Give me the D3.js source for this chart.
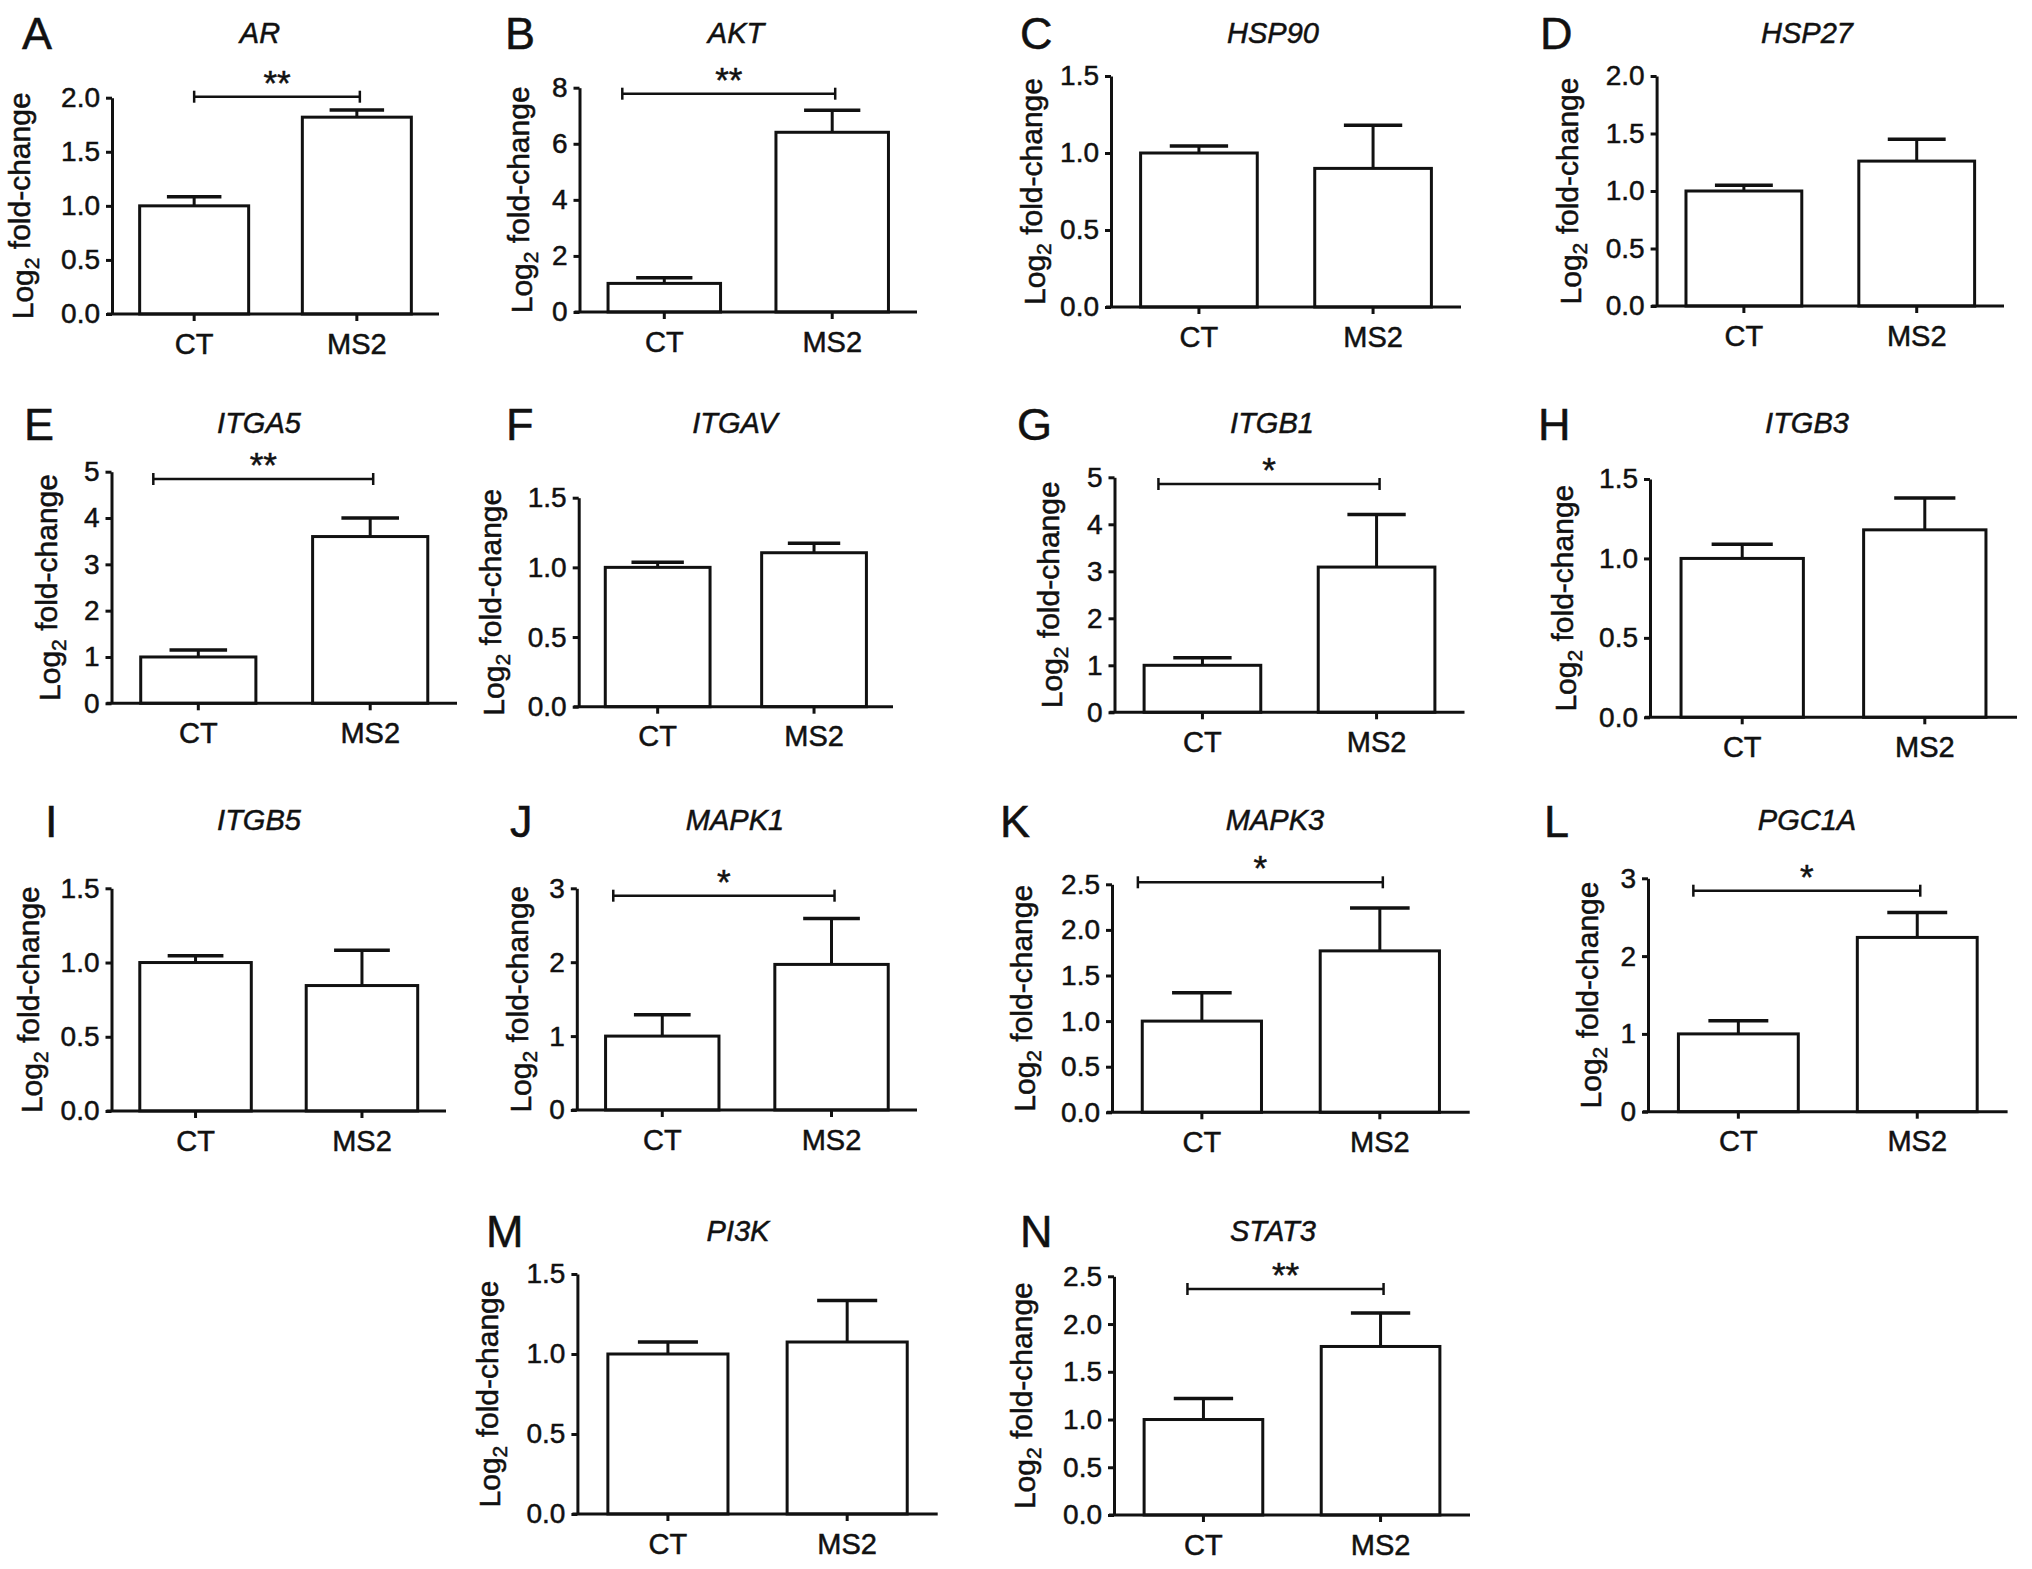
<!DOCTYPE html>
<html>
<head>
<meta charset="utf-8">
<script src="https://cdn.jsdelivr.net/npm/d3@7"></script>
<style>
  body { margin: 0; background: #fff; }
  text { font-family: "Liberation Sans", Arial, Helvetica, sans-serif; fill: #111;
         stroke: #111; stroke-width: 0.5px; }
</style>
</head>
<body>
<div id="chart"></div>
<script>
// values
const genes = ['AR', 'AKT', 'HSP90', 'HSP27', 'ITGA5', 'ITGAV', 'ITGB1', 'ITGB3',
               'ITGB5', 'MAPK1', 'MAPK3', 'PGC1A', 'PI3K', 'STAT3'];
const panelLetters = ['A', 'B', 'C', 'D', 'E', 'F', 'G', 'H', 'I', 'J', 'K', 'L', 'M', 'N'];
const groups = ['CT', 'MS2'];

const ctMean  = [1.0, 1.02, 1.0, 1.0, 1.0, 1.0, 1.0, 1.0, 1.0, 1.0, 1.0, 1.0, 1.0, 1.0];
const ctSem   = [0.085, 0.2, 0.045, 0.05, 0.15, 0.036, 0.16, 0.09, 0.045, 0.29, 0.31, 0.17, 0.075, 0.22];
const ms2Mean = [1.82, 6.41, 0.90, 1.26, 3.6, 1.105, 3.09, 1.18, 0.845, 1.97, 1.77, 2.24, 1.075, 1.765];
const ms2Sem  = [0.067, 0.79, 0.28, 0.19, 0.4, 0.068, 1.12, 0.2, 0.237, 0.62, 0.47, 0.32, 0.26, 0.35];

const yMax  = [2, 8, 1.5, 2, 5, 1.5, 5, 1.5, 1.5, 3, 2.5, 3, 1.5, 2.5];
const yStep = [0.5, 2, 0.5, 0.5, 1, 0.5, 1, 0.5, 0.5, 1, 0.5, 1, 0.5, 0.5];
const sigLabels = ['**', '**', '', '', '**', '', '*', '', '', '*', '*', '*', '', '**'];

// panel placement (pixels): y axis x, x axis end, top tick y, zero y,
// title x, letter x, y-label offset, significance bar y and left shift
const layout = [
  { ax: 112,   x1: 439,  yTop: 97.7,  y0: 314,   tx: 260,  lx: 22,   lab: 87, sy: 96.7,  sdx: 0 },
  { ax: 579.5, x1: 917,  yTop: 87.7,  y0: 312,   tx: 736,  lx: 505,  lab: 56, sy: 93.7,  sdx: -42 },
  { ax: 1111,  x1: 1461, yTop: 76,    y0: 307,   tx: 1273, lx: 1020, lab: 74, sy: 0,     sdx: 0 },
  { ax: 1656.6,x1: 2004, yTop: 76,    y0: 306,   tx: 1807, lx: 1540, lab: 84, sy: 0,     sdx: 0 },
  { ax: 111.5, x1: 457,  yTop: 471.7, y0: 703.3, tx: 259,  lx: 24,   lab: 60, sy: 479,   sdx: -45 },
  { ax: 578.7, x1: 893,  yTop: 497.7, y0: 706.7, tx: 735,  lx: 506,  lab: 83, sy: 0,     sdx: 0 },
  { ax: 1114.5,x1: 1464.5,yTop: 477.3,y0: 712.3, tx: 1272, lx: 1017, lab: 61, sy: 484,   sdx: -44 },
  { ax: 1650,  x1: 2017, yTop: 479,   y0: 717.3, tx: 1807, lx: 1538, lab: 82, sy: 0,     sdx: 0 },
  { ax: 111.5, x1: 446,  yTop: 888.3, y0: 1111,  tx: 259,  lx: 45,   lab: 78, sy: 0,     sdx: 0 },
  { ax: 576.8, x1: 917,  yTop: 888.3, y0: 1110,  tx: 735,  lx: 510,  lab: 54, sy: 895.7, sdx: -49 },
  { ax: 1112,  x1: 1469.7,yTop: 884.3,y0: 1112.3,tx: 1275, lx: 1000, lab: 85, sy: 882.3, sdx: -64 },
  { ax: 1648,  x1: 2007.6,yTop: 878.3,y0: 1111.7,tx: 1807, lx: 1544, lab: 55, sy: 890.7, sdx: -45 },
  { ax: 577.4, x1: 937.7,yTop: 1274,  y0: 1514,  tx: 738,  lx: 486,  lab: 85, sy: 0,     sdx: 0 },
  { ax: 1114,  x1: 1470, yTop: 1276.3,y0: 1515,  tx: 1273, lx: 1020, lab: 87, sy: 1289,  sdx: -16 }
];
const rowOf = [0, 0, 0, 0, 1, 1, 1, 1, 2, 2, 2, 2, 3, 3];
const titleY = [43, 433, 830, 1241];
const letterY = [49, 440, 837, 1247];

const ink = '#111';
const svg = d3.select('#chart').append('svg')
  .attr('width', 2032).attr('height', 1569)
  .style('background', '#fff');

genes.forEach((gene, i) => {
  const L = layout[i];
  const g = svg.append('g');

  const x = d3.scaleBand().domain(groups).range([L.ax, L.x1])
    .paddingInner(0.33).paddingOuter(0.17);
  const y = d3.scaleLinear().domain([0, yMax[i]]).range([L.y0, L.yTop]);
  const bw = x.bandwidth();

  const vals = [
    { grp: 'CT', mean: ctMean[i], sem: ctSem[i] },
    { grp: 'MS2', mean: ms2Mean[i], sem: ms2Sem[i] }
  ];

  // upper SEM bars
  const eb = g.selectAll('g.err').data(vals).join('g').attr('class', 'err');
  eb.append('line')
    .attr('x1', d => x(d.grp) + bw / 2).attr('x2', d => x(d.grp) + bw / 2)
    .attr('y1', d => y(d.mean)).attr('y2', d => y(d.mean + d.sem))
    .attr('stroke', ink).attr('stroke-width', 3);
  eb.append('line')
    .attr('x1', d => x(d.grp) + bw / 4).attr('x2', d => x(d.grp) + bw * 3 / 4)
    .attr('y1', d => y(d.mean + d.sem)).attr('y2', d => y(d.mean + d.sem))
    .attr('stroke', ink).attr('stroke-width', 3.5);

  // bars
  g.selectAll('rect.bar').data(vals).join('rect').attr('class', 'bar')
    .attr('x', d => x(d.grp))
    .attr('y', d => y(d.mean))
    .attr('width', bw)
    .attr('height', d => y(0) - y(d.mean))
    .attr('fill', '#fff').attr('stroke', ink).attr('stroke-width', 3);

  // axes
  const fmt = yStep[i] < 1 ? d3.format('.1f') : d3.format('d');
  const yAxis = d3.axisLeft(y)
    .tickValues(d3.range(0, yMax[i] + 1e-9, yStep[i]))
    .tickFormat(fmt).tickSize(6).tickPadding(6).tickSizeOuter(0);
  const gy = g.append('g').attr('transform', `translate(${L.ax},0)`).call(yAxis);

  const xAxis = d3.axisBottom(x).tickSize(7).tickPadding(12).tickSizeOuter(0);
  const gx = g.append('g').attr('transform', `translate(0,${y(0)})`).call(xAxis);
  gx.select('.domain').attr('d', `M${L.ax - 5},0H${L.x1}`);

  [gy, gx].forEach(a => {
    a.selectAll('.domain, .tick line').attr('stroke', ink).attr('stroke-width', 3);
    a.selectAll('.tick text')
      .style('font-family', '"Liberation Sans", Arial, sans-serif')
      .attr('fill', ink);
  });
  gy.selectAll('.tick text').style('font-size', '28px');
  gx.selectAll('.tick text').style('font-size', '29px');

  // y label
  const lab = g.append('text')
    .attr('transform', `translate(${L.ax - L.lab + 8},${(L.yTop + L.y0) / 2}) rotate(-90)`)
    .attr('text-anchor', 'middle')
    .style('font-size', '30px');
  lab.append('tspan').text('Log');
  lab.append('tspan').text('2').style('font-size', '21px').attr('dy', '0.3em');
  lab.append('tspan').text(' fold-change').attr('dy', '-0.3em');

  // gene title
  g.append('text').attr('x', L.tx).attr('y', titleY[rowOf[i]])
    .attr('text-anchor', 'middle')
    .style('font-size', '29px').style('font-style', 'italic')
    .text(gene);

  // panel letter
  g.append('text').attr('x', L.lx).attr('y', letterY[rowOf[i]])
    .style('font-size', '45px')
    .text(panelLetters[i]);

  // significance bracket
  if (sigLabels[i]) {
    const sx0 = x('CT') + bw / 2 + L.sdx;
    const sx1 = x('MS2') + bw / 2 + 3;
    g.append('line').attr('x1', sx0).attr('x2', sx1)
      .attr('y1', L.sy).attr('y2', L.sy)
      .attr('stroke', ink).attr('stroke-width', 2.5);
    [sx0, sx1].forEach(sx => {
      g.append('line').attr('x1', sx).attr('x2', sx)
        .attr('y1', L.sy - 6).attr('y2', L.sy + 6)
        .attr('stroke', ink).attr('stroke-width', 2.5);
    });
    g.append('text').attr('x', (sx0 + sx1) / 2).attr('y', L.sy - 2)
      .attr('text-anchor', 'middle')
      .style('font-size', '35px')
      .text(sigLabels[i]);
  }
});
</script>
</body>
</html>
